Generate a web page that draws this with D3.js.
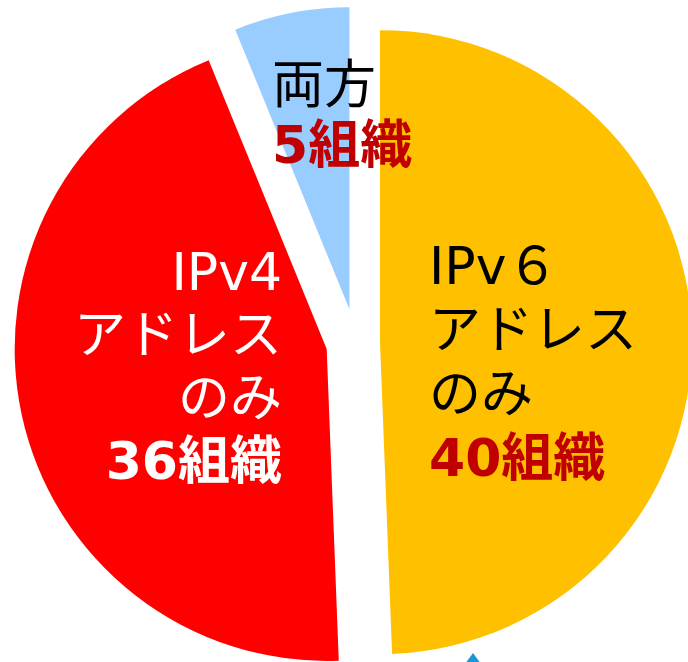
<!DOCTYPE html>
<html><head><meta charset="utf-8">
<script src="https://cdn.jsdelivr.net/npm/d3@7"></script>
<style>html,body{margin:0;padding:0;background:#fff;overflow:hidden}</style>
</head><body>
<svg id="chart" width="688" height="662"></svg>
<script>
// ---- data ----
const categories = ["IPv6アドレスのみ", "IPv4アドレスのみ", "両方"];
const values = [40, 36, 5];
const nameLines = [["IPv６", "アドレス", "のみ"], ["IPv4", "アドレス", "のみ"], ["両方"]];
const countLabels = ["40組織", "36組織", "5組織"];

// ---- styling / layout ----
const colors = ["#FFC000", "#FF0000", "#99CCFF"];
const nameColors = ["#000000", "#FFFFFF", "#000000"];
const countColors = ["#C00000", "#FFFFFF", "#C00000"];
const explode = [24, 30, 34];
const radii = [312, 312, 302];
const center = [356, 342.6];
const fontSize = 52;
const labelLayout = [
  {x: 429, y: 284, dy: 64, anchor: "start"},
  {x: 282, y: 290, dy: 63, anchor: "end"},
  {x: 272, y: 103, dy: 60, anchor: "start"}
];

const svg = d3.select("#chart");
const g = svg.append("g").attr("transform", `translate(${center[0]},${center[1]})`);

const pie = d3.pie().sort(null).value(d => d).startAngle(0).endAngle(2 * Math.PI);
const arcs = pie(values);

arcs.forEach((a, i) => {
  const mid = (a.startAngle + a.endAngle) / 2;
  const ox = Math.sin(mid) * explode[i], oy = -Math.cos(mid) * explode[i];
  const arc = d3.arc().innerRadius(0).outerRadius(radii[i]);
  g.append("path")
    .attr("d", arc(a))
    .attr("transform", `translate(${ox},${oy})`)
    .attr("fill", colors[i]);
});

// small partial marker at bottom edge
svg.append("path")
  .attr("d", d3.line()([[473, 653], [462, 668], [484, 668]]) + "Z")
  .attr("fill", "#1899D6");

const font = "'DejaVu Sans','Noto Sans CJK JP',sans-serif";
arcs.forEach((a, i) => {
  const L = labelLayout[i];
  const t = svg.append("text")
    .attr("text-anchor", L.anchor)
    .attr("font-family", font)
    .attr("font-size", fontSize);
  nameLines[i].forEach((line, k) => {
    t.append("tspan").attr("x", L.x).attr("y", L.y + k * L.dy)
      .attr("fill", nameColors[i]).text(line);
  });
  t.append("tspan").attr("x", L.x).attr("y", L.y + nameLines[i].length * L.dy)
    .attr("fill", countColors[i]).attr("font-weight", "bold").text(countLabels[i]);
});
</script>
</body></html>
